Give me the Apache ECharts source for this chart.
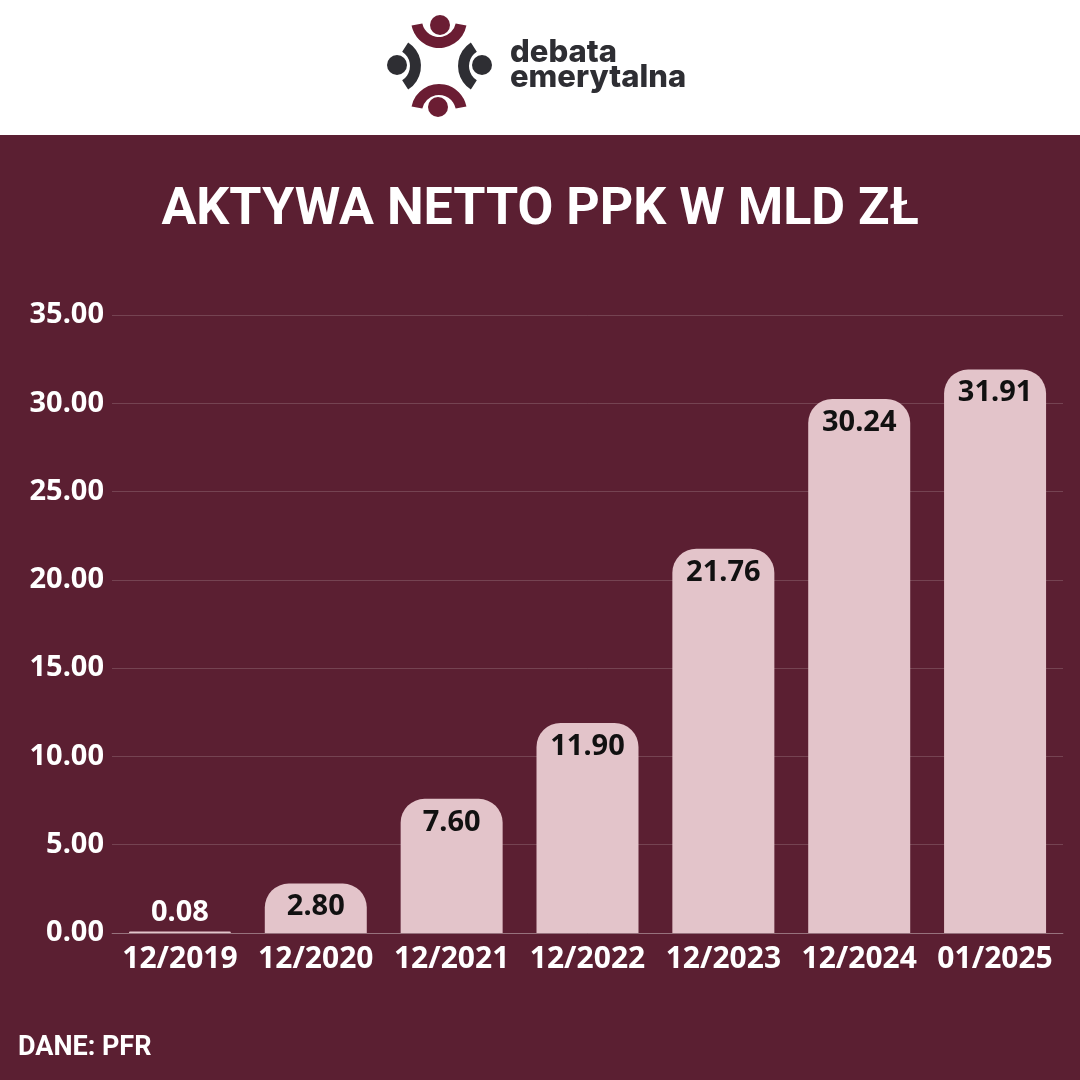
<!DOCTYPE html>
<html>
<head>
<meta charset="utf-8">
<script src="https://cdn.jsdelivr.net/npm/echarts@6/dist/echarts.min.js"></script>
<style>
  html, body { margin: 0; padding: 0; background: #5b1f32; }
  #myChart { width: 1080px; height: 1080px; }
</style>
</head>
<body>
<div id="myChart"></div>
<script>
// dane z wykresu
var categories = ['12/2019', '12/2020', '12/2021', '12/2022', '12/2023', '12/2024', '01/2025'];
var values = [0.08, 2.80, 7.60, 11.90, 21.76, 30.24, 31.91];
var yTicks = [0, 5, 10, 15, 20, 25, 30, 35];

var maroon = '#5b1f32';
var logoRed = '#6b1d33';
var logoDark = '#2e2e33';

var myChart = echarts.init(document.getElementById('myChart'));

// pierwszy słupek jest prawie zerowy, więc etykieta nad nim na biało
var barData = values.map(function (v, i) {
  if (v < 1) {
    return { value: v, label: { position: 'top', distance: 4, color: '#ffffff' } };
  }
  return v;
});

var option = {
  backgroundColor: maroon,
  animation: false,
  grid: {
    left: 112,
    right: 17,
    top: 315,
    bottom: 147
  },
  xAxis: {
    type: 'category',
    data: categories,
    axisLine: { lineStyle: { color: 'rgba(255,255,255,0.25)', width: 1 } },
    axisTick: { show: false },
    axisLabel: {
      interval: 0,
      color: '#ffffff',
      fontFamily: 'Noto Sans',
      fontWeight: 700,
      fontSize: 30,
      margin: 11
    }
  },
  yAxis: {
    type: 'value',
    min: yTicks[0],
    max: yTicks[yTicks.length - 1],
    interval: 5,
    axisLine: { show: false },
    axisTick: { show: false },
    splitLine: { lineStyle: { color: 'rgba(255,255,255,0.16)', width: 1 } },
    axisLabel: {
      color: '#ffffff',
      fontFamily: 'Noto Sans',
      fontWeight: 700,
      fontSize: 29,
      margin: 8,
      formatter: function (v) { return v.toFixed(2); }
    }
  },
  series: [{
    type: 'bar',
    data: barData,
    barWidth: 102,
    itemStyle: {
      color: '#e3c4ca',
      borderRadius: [24, 24, 0, 0]
    },
    label: {
      show: true,
      position: 'insideTop',
      distance: 9,
      color: '#111111',
      fontFamily: 'Noto Sans',
      fontWeight: 700,
      fontSize: 29,
      formatter: function (p) { return p.value.toFixed(2); }
    }
  }],
  graphic: [
    { type: 'rect', left: 0, top: 0, shape: { width: 1080, height: 135 }, style: { fill: '#ffffff' }, z: 0 },
    // logo
    { type: 'sector', shape: { cx: 439, cy: 20, r0: 17, r: 28, startAngle: 0.2, endAngle: Math.PI - 0.2 }, style: { fill: logoRed } },
    { type: 'circle', shape: { cx: 440, cy: 25, r: 10 }, style: { fill: logoRed } },
    { type: 'sector', shape: { cx: 439, cy: 112, r0: 17, r: 28, startAngle: Math.PI + 0.2, endAngle: 2 * Math.PI - 0.2 }, style: { fill: logoRed } },
    { type: 'circle', shape: { cx: 438, cy: 107, r: 10 }, style: { fill: logoRed } },
    { type: 'sector', shape: { cx: 393, cy: 66, r0: 17, r: 28, startAngle: -1.0, endAngle: 1.0 }, style: { fill: logoDark } },
    { type: 'circle', shape: { cx: 397, cy: 65, r: 10 }, style: { fill: logoDark } },
    { type: 'sector', shape: { cx: 486, cy: 66, r0: 17, r: 28, startAngle: Math.PI - 1.0, endAngle: Math.PI + 1.0 }, style: { fill: logoDark } },
    { type: 'circle', shape: { cx: 482, cy: 65, r: 10 }, style: { fill: logoDark } },
    {
      type: 'text', left: 510, top: 37,
      style: { text: 'debata\nemerytalna', fill: logoDark, font: '800 31px Inter', lineHeight: 25 }
    },
    // tytuł
    {
      type: 'text', left: 'center', top: 185,
      style: { text: 'AKTYWA NETTO PPK W MLD ZŁ', fill: '#ffffff', font: '700 52px Roboto' }
    },
    // źródło
    {
      type: 'text', left: 18, top: 1035,
      style: { text: 'DANE: PFR', fill: '#ffffff', font: '700 27px Roboto' }
    }
  ]
};

myChart.setOption(option);
</script>
</body>
</html>
